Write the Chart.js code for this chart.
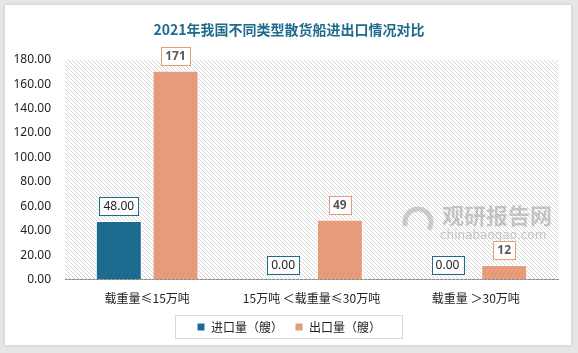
<!DOCTYPE html>
<html>
<head>
<meta charset="utf-8">
<script src="https://cdn.jsdelivr.net/npm/chart.js@4.4.0/dist/chart.umd.min.js"></script>
<style>
  html, body { margin: 0; padding: 0; background: #e6e6e6; }
  #card { position: absolute; left: 5px; top: 5px; width: 566px; height: 340px; background: #fff; box-shadow: 0 0 4px rgba(0,0,0,0.15); }
  #wrap { position: absolute; left: 0; top: 0; width: 578px; height: 353px; }
</style>
</head>
<body>
<div id="card"></div>
<div id="wrap"><canvas id="ships" width="578" height="353"></canvas></div>
<script>
var categories = ['载重量≤15万吨', '15万吨 ＜载重量≤30万吨', '载重量 ＞30万吨'];
var importCounts = [48, 0, 0];
var exportCounts = [171, 49, 12];
var seriesNames = ['进口量（艘）', '出口量（艘）'];
var yTicks = [0, 20, 40, 60, 80, 100, 120, 140, 160, 180];

var blue = '#1d6b8f';
var orange = '#e69b7b';

// diagonal hatch behind the bars
var pc = document.createElement('canvas');
pc.width = 4; pc.height = 4;
var p = pc.getContext('2d');
p.strokeStyle = '#d6d6d6';
p.lineWidth = 1;
p.beginPath();
p.moveTo(0, 0); p.lineTo(4, 4);
p.moveTo(-1, 3); p.lineTo(1, 5);
p.moveTo(3, -1); p.lineTo(5, 1);
p.stroke();

var hatch = {
  id: 'hatch',
  beforeDatasetsDraw: function(chart) {
    var c = chart.ctx, a = chart.chartArea;
    c.save();
    c.fillStyle = c.createPattern(pc, 'repeat');
    c.fillRect(a.left, a.top, a.right - a.left, a.bottom - a.top);
    // watermark
    c.globalAlpha = 0.55;
    c.fillStyle = '#9a9a9a';
    c.font = 'bold 22px "Noto Sans CJK SC"';
    c.textBaseline = 'middle';
    c.fillText('观研报告网', 442, 216);
    c.font = '12px "DejaVu Sans"';
    c.fillText('chinabaogao.com', 440, 236);
    c.lineWidth = 5;
    c.strokeStyle = '#a8a8a8';
    c.beginPath();
    c.arc(418, 222, 13, Math.PI * 0.9, Math.PI * 2.2);
    c.stroke();
    c.restore();
  }
};

var valueBoxes = {
  id: 'valueBoxes',
  afterDatasetsDraw: function(chart) {
    var c = chart.ctx;
    chart.data.datasets.forEach(function(ds, i) {
      var meta = chart.getDatasetMeta(i);
      meta.data.forEach(function(bar, j) {
        var txt = i === 0 ? ds.data[j].toFixed(2) : String(ds.data[j]);
        c.save();
        c.font = (i === 0 ? '' : 'bold ') + '12px "Noto Sans"';
        var w = c.measureText(txt).width + 8;
        var h = 18;
        var x = bar.x - w / 2;
        var y = bar.y - 6 - h;
        c.fillStyle = '#fff';
        c.fillRect(x, y, w, h);
        c.strokeStyle = i === 0 ? blue : orange;
        c.lineWidth = 1;
        c.strokeRect(Math.round(x) + 0.5, Math.round(y) + 0.5, Math.round(w), h);
        c.fillStyle = i === 0 ? '#222' : '#595959';
        c.textAlign = 'center';
        c.textBaseline = 'middle';
        c.fillText(txt, bar.x, y + h / 2 + 1);
        c.restore();
      });
    });
  }
};

// legend and title sit a little right of centre; legend gets a thin grey frame
var legendBox = {
  id: 'legendBox',
  afterLayout: function(chart) {
    chart.legend.left += 10;
    chart.legend.right += 10;
    chart.titleBlock.left += 10;
    chart.titleBlock.right += 10;
  },
  afterDraw: function(chart) {
    var c = chart.ctx;
    c.save();
    c.strokeStyle = '#d9d9d9';
    c.lineWidth = 1;
    c.strokeRect(175.5, 315.5, 227, 23);
    c.restore();
  }
};

var ctx = document.getElementById('ships').getContext('2d');
var myChart = new Chart(ctx, {
  type: 'bar',
  data: {
    labels: categories,
    datasets: [
      {
        label: seriesNames[0],
        data: importCounts,
        backgroundColor: blue,
        borderColor: '#fff',
        borderWidth: 1,
        categoryPercentage: 0.69,
        barPercentage: 0.81
      },
      {
        label: seriesNames[1],
        data: exportCounts,
        backgroundColor: orange,
        borderColor: '#fff',
        borderWidth: 1,
        categoryPercentage: 0.69,
        barPercentage: 0.81
      }
    ]
  },
  options: {
    responsive: false,
    animation: false,
    devicePixelRatio: 1,
    layout: { padding: { left: 0, right: 20, top: 0, bottom: 10 } },
    plugins: {
      title: {
        display: true,
        text: '2021年我国不同类型散货船进出口情况对比',
        color: '#1e6b8e',
        font: { family: '"Noto Sans CJK SC"', size: 14, weight: 'bold' },
        padding: { top: 21, bottom: 22 }
      },
      legend: {
        position: 'bottom',
        labels: {
          boxWidth: 8,
          boxHeight: 8,
          padding: 12,
          color: '#222',
          font: { family: '"Noto Sans CJK SC"', size: 12 }
        }
      },
      tooltip: { enabled: false }
    },
    scales: {
      x: {
        grid: { display: false, drawTicks: false },
        border: { color: '#8c8c8c' },
        afterFit: function(axis) { axis.height = axis.height - 9; },
        ticks: {
          color: '#222',
          padding: 12,
          maxRotation: 0,
          font: { family: '"Noto Sans CJK SC"', size: 12 }
        }
      },
      y: {
        min: 0,
        max: 180,
        afterBuildTicks: function(axis) {
          axis.ticks = yTicks.map(function(v) { return { value: v }; });
        },
        afterFit: function(axis) { axis.width = 65; },
        grid: { display: false, drawTicks: false },
        border: { display: false },
        ticks: {
          color: '#222',
          padding: 14,
          font: { family: '"Noto Sans"', size: 12 },
          callback: function(value) { return value.toFixed(2); }
        }
      }
    }
  },
  plugins: [hatch, valueBoxes, legendBox]
});
</script>
</body>
</html>
